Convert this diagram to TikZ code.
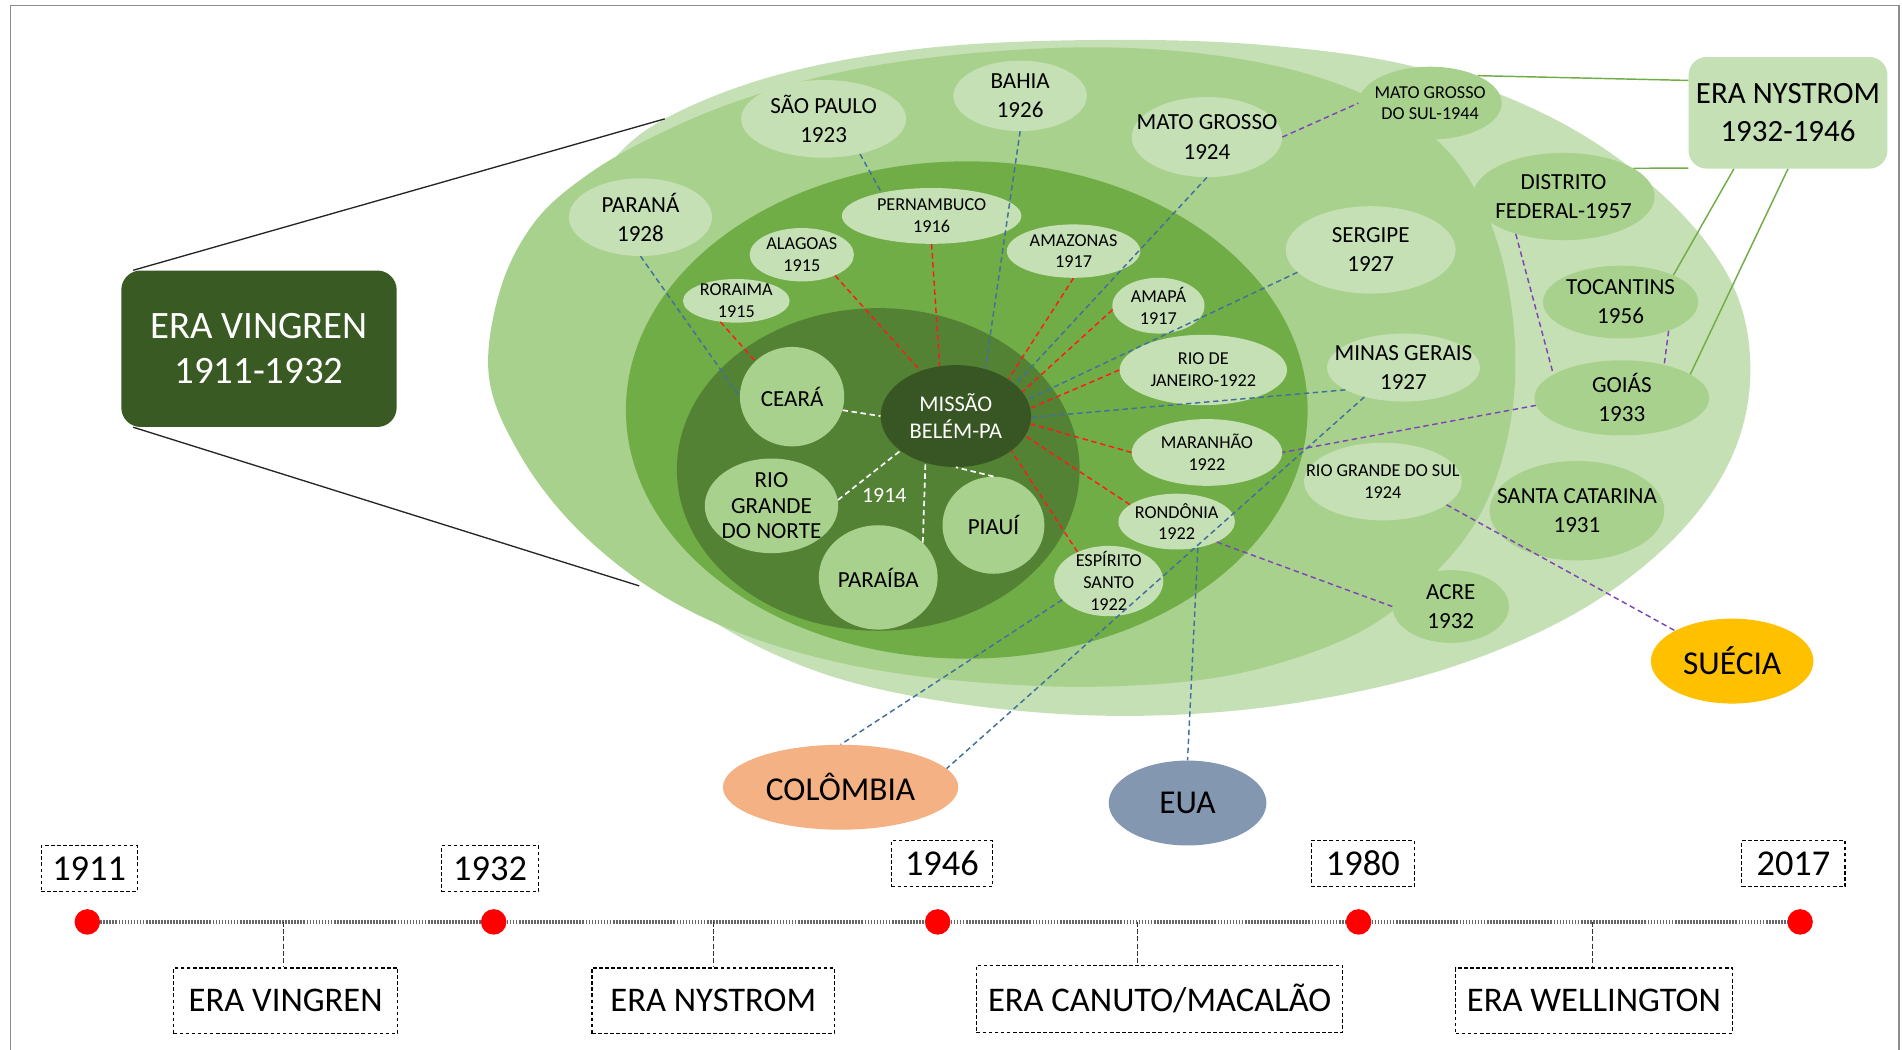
\documentclass[tikz,border=0pt]{standalone}
\usepackage{fontspec}
\setmainfont{Carlito}
\usetikzlibrary{shapes.geometric}

% palette
\definecolor{gLight}{HTML}{C5E0B4}
\definecolor{gMid}{HTML}{A9D18E}
\definecolor{gMain}{HTML}{70AD47}
\definecolor{gDeep}{HTML}{548235}
\definecolor{gDark}{HTML}{375623}
\definecolor{gBox}{HTML}{3A5A24}
\definecolor{lnBlue}{HTML}{41709E}
\definecolor{lnRed}{HTML}{FF1A1A}
\definecolor{lnPurple}{HTML}{7F45B5}
\definecolor{cSue}{HTML}{FFC000}
\definecolor{cCol}{HTML}{F4B183}
\definecolor{cEua}{HTML}{8497B0}
\definecolor{frameGray}{HTML}{8C8C8C}

% type sizes
\newcommand\szEraBig{\fontsize{32pt}{37pt}\selectfont}
\newcommand\szEraMid{\fontsize{25.5pt}{31pt}\selectfont}
\newcommand\szCountry{\fontsize{27.5pt}{32pt}\selectfont}
\newcommand\szYear{\fontsize{30pt}{34pt}\selectfont}
\newcommand\szTime{\fontsize{28.5pt}{32pt}\selectfont}
\newcommand\szBig{\fontsize{19pt}{24pt}\selectfont}
\newcommand\szSmall{\fontsize{15pt}{18pt}\selectfont}
\newcommand\szCore{\fontsize{19pt}{21pt}\selectfont}

\begin{document}
\begin{tikzpicture}[x=1pt,y=-1pt,
  reg/.style={ellipse, inner sep=0pt},
  sz/.style 2 args={minimum width=#1pt, minimum height=#2pt},
  lt/.style={reg, fill=gLight},
  md/.style={reg, fill=gMid},
  tBig/.style={align=center, font=\szBig, inner sep=0pt, text=black},
  tSmall/.style={align=center, font=\szSmall, inner sep=0pt, text=black},
  tCore/.style={align=center, font=\szCore, inner sep=0pt, text=black},
  lk/.style={line width=1.2pt, dash pattern=on 4.5pt off 3pt},
  lkBlue/.style={lk, draw=lnBlue},
  lkRed/.style={lk, draw=lnRed},
  lkPurple/.style={lk, draw=lnPurple},
  lkWhite/.style={lk, draw=white, line width=1.4pt},
  lkGreen/.style={draw=gMain, line width=1.2pt},
  lkBlack/.style={draw=black!85, line width=1.1pt},
  dot/.style={circle, fill=red, inner sep=0pt, minimum size=21pt},
  yearbox/.style={draw=black, densely dashed, line width=0.9pt, font=\szYear, inner sep=0pt},
  erabox/.style={draw=black, densely dashed, line width=0.9pt, font=\szTime, inner sep=0pt},
  tline/.style={draw=black!60, line width=2.8pt, dash pattern=on 1.4pt off 1.1pt},
  drop/.style={draw=black!80, line width=0.9pt, dash pattern=on 4pt off 2pt}
]
\useasboundingbox (0,0) rectangle (1568,865);
\fill[white] (0,0) rectangle (1568,865);

% outer frame
\draw[frameGray, line width=1.3pt] (8.5,4.5) rectangle (1565.5,900);

% ---------- nested regions ----------
\fill[gLight] plot[smooth cycle, tension=0.6] coordinates {
  (548,98) (640,62) (760,40) (900,33) (1040,37) (1170,56) (1285,100)
  (1372,162) (1427,232) (1443,305) (1427,378) (1378,446) (1298,506)
  (1190,552) (1065,580) (945,590) (830,585) (720,567) (640,540)
  (570,500) (500,440) (450,360) (440,270) (460,200) (500,138)};
\fill[gMid] plot[smooth cycle, tension=0.6] coordinates {
  (403,310) (412,240) (440,184) (483,145) (540,112) (612,82) (700,58)
  (800,44) (907,39) (1005,46) (1091,65) (1160,97) (1206,140) (1236,205)
  (1249,285) (1243,360) (1218,428) (1172,483) (1113,525) (1017,556)
  (910,566) (800,562) (700,548) (610,522) (535,484) (472,432) (427,372)};
\fill[gMain] (797,338) ellipse [x radius=281pt, y radius=205pt];
\fill[gDeep] (724,387) ellipse [x radius=166pt, y radius=133pt];

\coordinate (ringTop) at (548,98);
\coordinate (ringBot) at (527,483);

% ---------- era boxes ----------
\node[rectangle, rounded corners=16pt, fill=gBox, minimum width=227pt, minimum height=129pt,
      align=center, font=\szEraBig, text=white, inner sep=0pt] (vingren) at (213.5,287.5)
      {ERA VINGREN\\1911-1932};
\node[rectangle, rounded corners=15pt, fill=gLight, minimum width=164pt, minimum height=92pt,
      align=center, font=\szEraMid, text=black, inner sep=0pt] (nystrom) at (1474,93)
      {ERA NYSTROM\\1932-1946};

% ---------- states ----------
\node[lt, sz={136}{64}, label={[tBig]center:SÃO PAULO\\1923}] (saopaulo) at (679,98) {};
\node[lt, sz={110}{58}, label={[tBig]center:BAHIA\\1926}] (bahia) at (841,79) {};
\node[lt, sz={124}{66}, label={[tBig]center:MATO GROSSO\\1924}] (matogrosso) at (995,113) {};
\node[lt, sz={118}{64}, label={[tBig]center:PARANÁ\\1928}] (parana) at (528,179) {};
\node[lt, sz={148}{46}, label={[tSmall]center:PERNAMBUCO\\1916}] (pernambuco) at (768,178) {};
\node[lt, sz={86}{44}, label={[tSmall]center:ALAGOAS\\1915}] (alagoas) at (661,210) {};
\node[lt, sz={110}{44}, label={[tSmall]center:AMAZONAS\\1917}] (amazonas) at (885,207) {};
\node[lt, sz={88}{36}, label={[tSmall]center:RORAIMA\\1915}] (roraima) at (607,248) {};
\node[lt, sz={76}{46}, label={[tSmall]center:AMAPÁ\\1917}] (amapa) at (955,252) {};
\node[lt, sz={140}{72}, label={[tBig]center:SERGIPE\\1927}] (sergipe) at (1130,206) {};
\node[lt, sz={138}{58}, label={[tSmall]center:RIO DE\\JANEIRO-1922}] (riojaneiro) at (992,305) {};
\node[lt, sz={126}{56}, label={[tBig]center:MINAS GERAIS\\1927}] (minas) at (1157,303) {};
\node[lt, sz={124}{55}, label={[tSmall]center:MARANHÃO\\1922}] (maranhao) at (995,373) {};
\node[lt, sz={130}{64}, label={[tSmall]center:RIO GRANDE DO SUL\\1924}] (rgsul) at (1140,397) {};
\node[lt, sz={96}{46}, label={[tSmall]center:RONDÔNIA\\1922}] (rondonia) at (970,430) {};
\node[lt, sz={90}{58}, label={[tSmall]center:ESPÍRITO\\SANTO\\1922}] (espsanto) at (914,479) {};

\node[md, sz={118}{60}, label={[tSmall]center:MATO GROSSO\\DO SUL-1944}] (mgsul) at (1179,85) {};
\node[md, sz={150}{72}, label={[tBig]center:DISTRITO\\FEDERAL-1957}] (df) at (1289,162) {};
\node[md, sz={128}{60}, label={[tBig]center:TOCANTINS\\1956}] (tocantins) at (1336,249) {};
\node[md, sz={144}{62}, label={[tBig]center:GOIÁS\\1933}] (goias) at (1337,328) {};
\node[md, sz={144}{82}, label={[tBig]center:SANTA CATARINA\\1931}] (scatarina) at (1300,421) {};
\node[md, sz={96}{60}, label={[tBig]center:ACRE\\1932}] (acre) at (1196,500) {};

% first circle of the mission
\node[md, sz={86}{82}, label={[tCore]center:CEARÁ}] (ceara) at (653,327) {};
\node[md, sz={110}{78}, label={[tCore]center:RIO\\GRANDE\\DO NORTE}] (rgnorte) at (636,417) {};
\node[md, sz={84}{80}, label={[tCore]center:PIAUÍ}] (piaui) at (819,433) {};
\node[md, sz={98}{86}, label={[tCore]center:PARAÍBA}] (paraiba) at (724,476) {};
\node[reg, fill=gDark, sz={124}{84}, label={[tCore, text=white, font=\fontsize{18.5pt}{22pt}\selectfont]center:MISSÃO\\BELÉM-PA}] (missao) at (788,343) {};
\node[font=\fontsize{18pt}{20pt}\selectfont, text=white, inner sep=0pt] (ano1914) at (729,408) {1914};

% abroad
\node[reg, fill=cSue, sz={134}{70}, font=\szCountry] (suecia) at (1428,545) {SUÉCIA};
\node[reg, fill=cCol, sz={194}{70}, font=\szCountry] (colombia) at (693,649) {COLÔMBIA};
\node[reg, fill=cEua, sz={130}{70}, font=\szCountry] (eua) at (979,662) {EUA};

% ---------- connectors ----------
\draw[lkBlack] ([xshift=10pt]vingren.north west) -- (ringTop);
\draw[lkBlack] ([xshift=10pt]vingren.south west) -- (ringBot);

\draw[lkGreen] (nystrom.162) -- (mgsul.30);
\draw[lkGreen] (nystrom.209) -- (df.22);
\draw[lkGreen] (nystrom.226) -- (tocantins.27);
\draw[lkGreen] (nystrom.south) -- (goias.19);

\draw[lkBlue] (parana.south) -- (ceara.west);
\draw[lkBlue] (saopaulo.-44) -- (pernambuco.155);
\draw[lkBlue] (bahia.south) -- (missao.58);
\draw[lkBlue] (matogrosso.south) -- (missao.28);
\draw[lkBlue] (sergipe.197) -- (missao.13);
\draw[lkBlue] (minas.201) -- (missao.-1);
\draw[lkBlue] (minas.217) -- (colombia.10);
\draw[lkBlue] (espsanto.202) -- (colombia.north);
\draw[lkBlue] (rondonia.-51) -- (eua.north);

\draw[lkRed] (roraima.-127) -- (ceara.136);
\draw[lkRed] (alagoas.-32) -- (missao.128);
\draw[lkRed] (pernambuco.south) -- (missao.108);
\draw[lkRed] (amazonas.south) -- (missao.35);
\draw[lkRed] (amapa.185) -- (missao.20);
\draw[lkRed] (riojaneiro.west) -- (missao.6);
\draw[lkRed] (maranhao.west) -- (missao.-6);
\draw[lkRed] (rondonia.160) -- (missao.-16);
\draw[lkRed] (espsanto.137) -- (missao.-32);

\draw[lkWhite] (ceara.-15) -- (missao.west);
\draw[lkWhite] (rgnorte.5) -- (missao.212);
\draw[lkWhite] (paraiba.38) -- (missao.237);
\draw[lkWhite] (piaui.north) -- (missao.south);

\draw[lkPurple] (matogrosso.east) -- (mgsul.west);
\draw[lkPurple] (df.218) -- (goias.161);
\draw[lkPurple] (tocantins.-31) -- (goias.38);
\draw[lkPurple] (goias.185) -- (maranhao.east);
\draw[lkPurple] (rondonia.-27) -- (acre.west);
\draw[lkPurple] (rgsul.-20) -- (suecia.152);

% ---------- timeline ----------
\node[yearbox, minimum width=79pt, minimum height=38pt] (y1911) at (73.5,716) {1911};
\node[yearbox, minimum width=80pt, minimum height=38pt] (y1932) at (404,716) {1932};
\node[yearbox, minimum width=83pt, minimum height=38pt] (y1946) at (776.5,712) {1946};
\node[yearbox, minimum width=85pt, minimum height=38pt] (y1980) at (1123.5,712) {1980};
\node[yearbox, minimum width=85pt, minimum height=38pt] (y2017) at (1478.5,712) {2017};

\node[dot] (d1) at (72,760) {};
\node[dot] (d2) at (407,760) {};
\node[dot] (d3) at (773,760) {};
\node[dot] (d4) at (1120,760) {};
\node[dot] (d5) at (1484,760) {};

\draw[tline] (d1) -- (d2);
\draw[tline] (d2) -- (d3);
\draw[tline] (d3) -- (d4);
\draw[tline] (d4) -- (d5);

\node[erabox, minimum width=185pt, minimum height=54pt] (eVin) at (235.5,825) {ERA VINGREN};
\node[erabox, minimum width=200pt, minimum height=54pt] (eNys) at (588,825) {ERA NYSTROM};
\node[erabox, minimum width=302pt, minimum height=55pt] (eCan) at (956,823.5) {ERA CANUTO/MACALÃO};
\node[erabox, minimum width=228pt, minimum height=54pt] (eWel) at (1314,825) {ERA WELLINGTON};

\coordinate (c1) at (234,760);
\coordinate (c2) at (588,760);
\coordinate (c3) at (938,760);
\coordinate (c4) at (1313,760);
\draw[drop] (c1) -- (c1 |- eVin.north);
\draw[drop] (c2) -- (c2 |- eNys.north);
\draw[drop] (c3) -- (c3 |- eCan.north);
\draw[drop] (c4) -- (c4 |- eWel.north);
\end{tikzpicture}
\end{document}
